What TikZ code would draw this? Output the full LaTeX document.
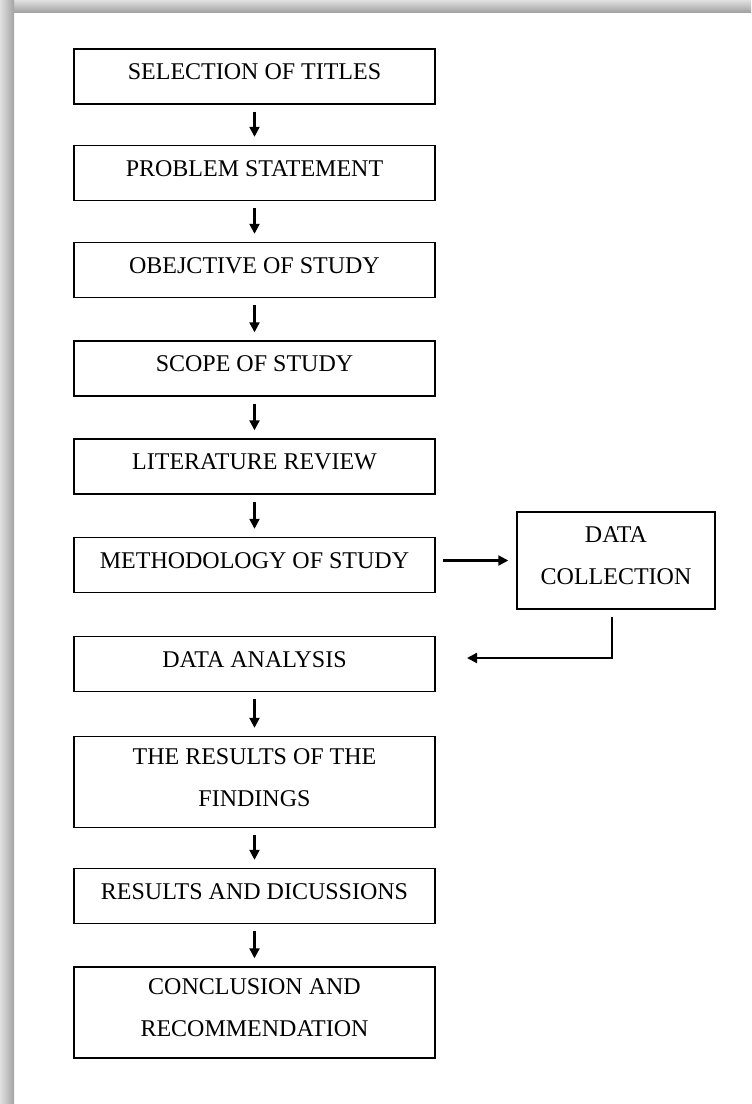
\documentclass[tikz,border=0pt]{standalone}
\usepackage{fontspec}
\setmainfont{Liberation Serif}
\usetikzlibrary{arrows.meta}

\begin{document}
\begin{tikzpicture}[x=0.5pt, y=-0.5pt,
  box/.style={draw, line width=0.7pt, minimum width=180.5pt, minimum height=27.5pt,
    inner sep=0pt, align=center, text depth=4.5pt, font=\fontsize{12}{21}\selectfont},
  tallbox/.style={box, minimum height=45.5pt},
  arr/.style={-{Triangle[length=5pt,width=5pt]}, line width=1.1pt,
    shorten <=3.5pt, shorten >=4pt}]
\useasboundingbox (0,0) rectangle (751,1104);
% Frame
\shade [top color=gray!24, bottom color=gray!72] (0,0) rectangle (751,12);
\shade [left color=gray!24, right color=gray!72] (0,0) rectangle (14,1104);
% Boxes
\node [box] (titles) at (254.5,76.5) {SELECTION OF TITLES};
\node [box] (problem) at (254.5,173) {PROBLEM STATEMENT};
\node [box] (objective) at (254.5,270) {OBEJCTIVE OF STUDY};
\node [box] (scope) at (254.5,368.5) {SCOPE OF STUDY};
\node [box] (literature) at (254.5,466.5) {LITERATURE REVIEW};
\node [box] (method) at (254.5,565) {METHODOLOGY OF STUDY};
\node [box] (analysis) at (254.5,664) {DATA ANALYSIS};
\node [tallbox] (findings) at (254.5,782) {THE RESULTS OF THE\\FINDINGS};
\node [box] (discussion) at (254.5,896) {RESULTS AND DICUSSIONS};
\node [tallbox] (conclusion) at (254.5,1012.5) {CONCLUSION AND\\RECOMMENDATION};
\node [box, minimum width=99pt, minimum height=48.5pt] (collection) at (616,560.5) {DATA\\COLLECTION};
% Arrows
\draw [arr] (titles) -- (problem);
\draw [arr] (problem) -- (objective);
\draw [arr] (objective) -- (scope);
\draw [arr] (scope) -- (literature);
\draw [arr] (literature) -- (method);
\draw [arr] (method.east |- collection.west) -- (collection.west);
\coordinate (turn) at (612,658);
\coordinate (back) at (467,658);
\draw [arr, shorten >=0pt] ([xshift=-2pt]collection.south) -- (turn) -- (back);
\draw [arr] (analysis) -- (findings);
\draw [arr] (findings) -- (discussion);
\draw [arr] (discussion) -- (conclusion);
\end{tikzpicture}
\end{document}
